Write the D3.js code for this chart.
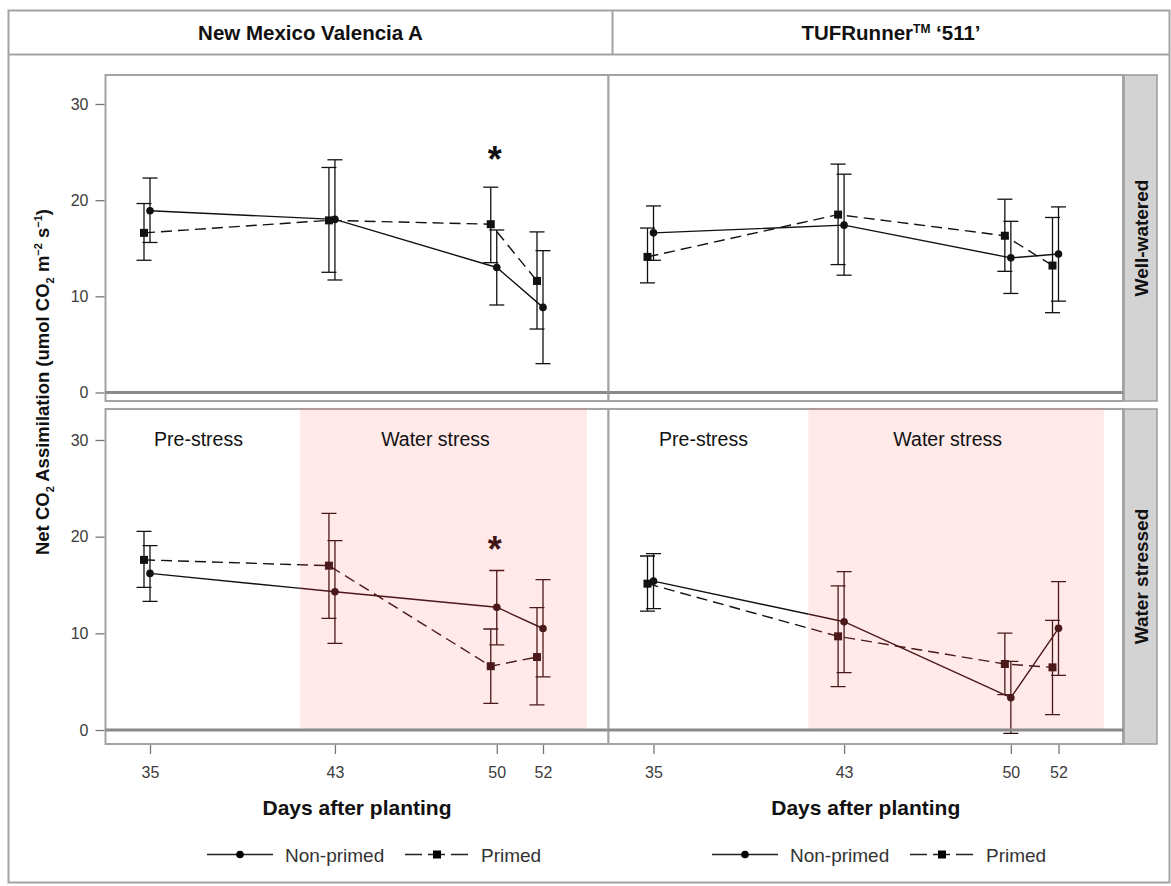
<!DOCTYPE html>
<html><head><meta charset="utf-8">
<script src="https://cdn.jsdelivr.net/npm/d3@7"></script>
<style>
body{margin:0;background:#fff;}
svg{display:block;font-family:"Liberation Sans",Arial,sans-serif;}
</style></head><body>
<svg id="chart" width="1171" height="886"></svg>
<script>
// ---------------- DATA ----------------
const days = [35, 43, 50, 52];
const yTicks = [0, 10, 20, 30];
const cultivars = ["New Mexico Valencia A", "TUFRunner"];
const treatments = ["Well-watered", "Water stressed"];
const seriesNames = ["Non-primed", "Primed"];
const phaseLabels = ["Pre-stress", "Water stress"];
const phaseLabelDays = [37.1, 47.35];
const phaseLabelValue = 30.1;
const stressWindow = [41.5, 53.9];
const sigDay = 50;

// New Mexico Valencia A, well-watered
const nmWW_np    = [18.9, 18.0, 13.0, 8.85];
const nmWW_np_lo = [15.6, 11.7, 9.1, 3.0];
const nmWW_np_hi = [22.3, 24.2, 16.9, 14.75];
const nmWW_p     = [16.6, 17.9, 17.5, 11.6];
const nmWW_p_lo  = [13.75, 12.5, 13.5, 6.6];
const nmWW_p_hi  = [19.65, 23.4, 21.35, 16.7];
// TUFRunner '511', well-watered
const tfWW_np    = [16.6, 17.4, 14.0, 14.4];
const tfWW_np_lo = [13.75, 12.2, 10.3, 9.5];
const tfWW_np_hi = [19.4, 22.7, 17.8, 19.3];
const tfWW_p     = [14.1, 18.5, 16.3, 13.2];
const tfWW_p_lo  = [11.4, 13.3, 12.6, 8.3];
const tfWW_p_hi  = [17.1, 23.75, 20.1, 18.2];
// New Mexico Valencia A, water stressed
const nmWS_np    = [16.2, 14.3, 12.7, 10.5];
const nmWS_np_lo = [13.3, 8.97, 8.8, 5.5];
const nmWS_np_hi = [19.07, 19.6, 16.5, 15.55];
const nmWS_p     = [17.6, 17.0, 6.6, 7.55];
const nmWS_p_lo  = [14.75, 11.55, 2.76, 2.6];
const nmWS_p_hi  = [20.55, 22.4, 10.45, 12.65];
// TUFRunner '511', water stressed
const tfWS_np    = [15.4, 11.2, 3.34, 10.52];
const tfWS_np_lo = [12.56, 5.93, -0.35, 5.66];
const tfWS_np_hi = [18.24, 16.38, 7.1, 15.34];
const tfWS_p     = [15.14, 9.69, 6.83, 6.48];
const tfWS_p_lo  = [12.3, 4.48, 3.66, 1.59];
const tfWS_p_hi  = [18.0, 14.9, 10.03, 11.34];
// significance markers (value where the asterisk sits), null = none
const sigNM = [25.0, 19.5];
const sigTF = [null, null];

// ---------------- LAYOUT ----------------
const svg = d3.select("#chart");
const defs = svg.append("defs");
const frameGray = "#a3a3a3";
const cols = [
  {x0: 105.5, x1: 608.5, range: [150, 543]},
  {x0: 608.5, x1: 1123, range: [653.5, 1058.5]}
];
const rows = [
  {y0: 75, y1: 401, range: [392.5, 104]},
  {y0: 409, y1: 744, range: [730, 440]}
];

// outer frame
svg.append("rect").attr("x", 8.5).attr("y", 10.5).attr("width", 1161).attr("height", 872)
  .attr("fill", "#fff").attr("stroke", frameGray).attr("stroke-width", 2);
// header row
svg.append("line").attr("x1", 8.5).attr("x2", 1169.5).attr("y1", 54.5).attr("y2", 54.5)
  .attr("stroke", frameGray).attr("stroke-width", 2);
svg.append("line").attr("x1", 612.5).attr("x2", 612.5).attr("y1", 10.5).attr("y2", 54.5)
  .attr("stroke", frameGray).attr("stroke-width", 2);
svg.append("text").attr("x", 310.5).attr("y", 39.5).attr("text-anchor", "middle")
  .attr("font-size", 20.5).attr("font-weight", "bold").attr("fill", "#111").text(cultivars[0]);
const h2 = svg.append("text").attr("x", 891).attr("y", 39.5).attr("text-anchor", "middle")
  .attr("font-size", 20.5).attr("font-weight", "bold").attr("fill", "#111");
h2.append("tspan").text(cultivars[1]);
h2.append("tspan").attr("font-size", 12).attr("dy", -7).text("TM");
h2.append("tspan").attr("dy", 7).text(" \u2018511\u2019");

// strips
rows.forEach((r, i) => {
  svg.append("rect").attr("x", 1124).attr("y", r.y0).attr("width", 33).attr("height", r.y1 - r.y0)
    .attr("fill", "#d3d3d3").attr("stroke", "#9a9a9a").attr("stroke-width", 1.5);
  const cy = (r.y0 + r.y1) / 2;
  svg.append("text").attr("transform", `translate(1141,${cy}) rotate(-90)`)
    .attr("text-anchor", "middle").attr("dy", "0.35em").attr("font-size", 19)
    .attr("font-weight", "bold").attr("fill", "#111").text(treatments[i]);
});

const panelData = [
  [ {np: [nmWW_np, nmWW_np_lo, nmWW_np_hi], p: [nmWW_p, nmWW_p_lo, nmWW_p_hi], sig: sigNM[0]},
    {np: [tfWW_np, tfWW_np_lo, tfWW_np_hi], p: [tfWW_p, tfWW_p_lo, tfWW_p_hi], sig: sigTF[0]} ],
  [ {np: [nmWS_np, nmWS_np_lo, nmWS_np_hi], p: [nmWS_p, nmWS_p_lo, nmWS_p_hi], sig: sigNM[1]},
    {np: [tfWS_np, tfWS_np_lo, tfWS_np_hi], p: [tfWS_p, tfWS_p_lo, tfWS_p_hi], sig: sigTF[1]} ]
];

function drawSeries(g, pd, xs, ys, color) {
  const series = [
    {vals: pd.np, off: 0, dash: null, shape: "circle"},
    {vals: pd.p, off: -6, dash: "11,6", shape: "square"}
  ];
  series.forEach(s => {
    const pts = days.map((d, i) => ({x: xs(d) + s.off, m: s.vals[0][i], lo: s.vals[1][i], hi: s.vals[2][i]}));
    const line = d3.line().x(p => p.x).y(p => ys(p.m));
    g.append("path").attr("d", line(pts)).attr("fill", "none").attr("stroke", color)
      .attr("stroke-width", 1.4).attr("stroke-dasharray", s.dash);
    pts.forEach(p => {
      g.append("line").attr("x1", p.x).attr("x2", p.x).attr("y1", ys(p.lo)).attr("y2", ys(p.hi))
        .attr("stroke", color).attr("stroke-width", 1.3);
      [p.lo, p.hi].forEach(v => {
        g.append("line").attr("x1", p.x - 7.5).attr("x2", p.x + 7.5).attr("y1", ys(v)).attr("y2", ys(v))
          .attr("stroke", color).attr("stroke-width", 1.3);
      });
      if (s.shape === "circle") {
        g.append("circle").attr("cx", p.x).attr("cy", ys(p.m)).attr("r", 3.8).attr("fill", color);
      } else {
        g.append("rect").attr("x", p.x - 4).attr("y", ys(p.m) - 4).attr("width", 8).attr("height", 8).attr("fill", color);
      }
    });
  });
}

const ink = "#111";
rows.forEach((r, ri) => {
  cols.forEach((c, ci) => {
    const xs = d3.scaleLinear().domain([days[0], days[days.length - 1]]).range(c.range);
    const ys = d3.scaleLinear().domain([0, 30]).range(r.range);
    const g = svg.append("g");
    g.append("rect").attr("x", c.x0).attr("y", r.y0).attr("width", c.x1 - c.x0).attr("height", r.y1 - r.y0)
      .attr("fill", "#fff").attr("stroke", frameGray).attr("stroke-width", 2);

    const pd = panelData[ri][ci];
    if (ri === 1) {
      const sx0 = xs(stressWindow[0]), sx1 = xs(stressWindow[1]);
      // white-out inside shade so the tinted copy is not mixed with black
      const cidOut = `outside${ci}`;
      const cp = defs.append("clipPath").attr("id", cidOut);
      cp.append("rect").attr("x", c.x0 - 20).attr("y", r.y0 - 20).attr("width", sx0 - c.x0 + 20).attr("height", r.y1 - r.y0 + 40);
      cp.append("rect").attr("x", sx1).attr("y", r.y0 - 20).attr("width", c.x1 - sx1 + 20).attr("height", r.y1 - r.y0 + 40);
      drawSeries(g.append("g").attr("clip-path", `url(#${cidOut})`), pd, xs, ys, ink);
      const cid = `shade${ci}`;
      defs.append("clipPath").attr("id", cid).append("rect")
        .attr("x", sx0).attr("y", r.y0).attr("width", sx1 - sx0).attr("height", r.y1 - r.y0);
      drawSeries(g.append("g").attr("clip-path", `url(#${cid})`), pd, xs, ys, "#2c0b0b");
    } else {
      drawSeries(g, pd, xs, ys, ink);
    }

    if (pd.sig !== null) {
      g.append("text").attr("x", xs(sigDay) - 2).attr("y", ys(pd.sig) + 20).attr("text-anchor", "middle")
        .attr("font-size", 36).attr("font-weight", "bold").attr("fill", ri === 1 ? "#1e0808" : ink).text("*");
    }

    if (ri === 1) {
      const sx0 = xs(stressWindow[0]), sx1 = xs(stressWindow[1]);
      g.append("rect").attr("x", sx0).attr("y", r.y0 - 1)
        .attr("width", sx1 - sx0).attr("height", ys(0) - r.y0 + 1)
        .attr("fill", "rgb(255,110,110)").attr("fill-opacity", 0.15);
      phaseLabels.forEach((t, i) => {
        g.append("text").attr("x", xs(phaseLabelDays[i])).attr("y", ys(phaseLabelValue)).attr("dy", "0.36em")
          .attr("text-anchor", "middle").attr("font-size", 19.5).attr("fill", "#111").text(t);
      });
    }

    // zero reference line
    g.append("line").attr("x1", c.x0).attr("x2", c.x1).attr("y1", ys(0)).attr("y2", ys(0))
      .attr("stroke", "#8a8a8a").attr("stroke-width", 3);

    if (ci === 0) {
      const ay = d3.axisLeft(ys).tickValues(yTicks).tickSize(9).tickPadding(7);
      const ag = g.append("g").attr("transform", `translate(${c.x0 - 1},0)`).call(ay);
      ag.select(".domain").remove();
      ag.selectAll("line").attr("stroke", "#777").attr("stroke-width", 1.3);
      ag.selectAll("text").attr("font-size", 16).attr("fill", "#3c3c3c").attr("font-family", null);
    }
    if (ri === 1) {
      const ax = d3.axisBottom(xs).tickValues(days).tickSize(9).tickPadding(13).tickFormat(d3.format("d"));
      const ag = g.append("g").attr("transform", `translate(0,${r.y1 + 1})`).call(ax);
      ag.select(".domain").remove();
      ag.selectAll("line").attr("stroke", "#777").attr("stroke-width", 1.3);
      ag.selectAll("text").attr("font-size", 16).attr("fill", "#3c3c3c").attr("font-family", null);
      g.append("text").attr("x", (c.x0 + c.x1) / 2).attr("y", 815).attr("text-anchor", "middle")
        .attr("font-size", 21).attr("font-weight", "bold").attr("fill", "#111").text("Days after planting");
    }
  });
});

// y axis title
const yl = svg.append("text").attr("transform", "translate(49,382) rotate(-90)")
  .attr("text-anchor", "middle").attr("font-size", 18.5).attr("font-weight", "bold").attr("fill", "#111");
yl.append("tspan").text("Net CO");
yl.append("tspan").attr("font-size", 11).attr("dy", 5).text("2");
yl.append("tspan").attr("dy", -5).text(" Assimilation (umol CO");
yl.append("tspan").attr("font-size", 11).attr("dy", 5).text("2");
yl.append("tspan").attr("dy", -5).text(" m");
yl.append("tspan").attr("font-size", 11).attr("dy", -7).text("\u22122");
yl.append("tspan").attr("dy", 7).text(" s");
yl.append("tspan").attr("font-size", 11).attr("dy", -7).text("\u22121");
yl.append("tspan").attr("dy", 7).text(")");

// legends
const legendOrigins = [207, 712];
legendOrigins.forEach(ox => {
  const ly = 854.5;
  const lg = svg.append("g").attr("transform", `translate(${ox},${ly})`);
  lg.append("line").attr("x1", 0).attr("x2", 66).attr("stroke", "#222").attr("stroke-width", 1.6);
  lg.append("circle").attr("cx", 33).attr("r", 3.8).attr("fill", "#000");
  lg.append("text").attr("x", 78).attr("y", 7).attr("font-size", 19).attr("fill", "#333").text(seriesNames[0]);
  lg.append("line").attr("x1", 198).attr("x2", 262).attr("stroke", "#222").attr("stroke-width", 1.6)
    .attr("stroke-dasharray", "17,6");
  lg.append("rect").attr("x", 226).attr("y", -4).attr("width", 8).attr("height", 8).attr("fill", "#000");
  lg.append("text").attr("x", 274).attr("y", 7).attr("font-size", 19).attr("fill", "#333").text(seriesNames[1]);
});
</script>
</body></html>
